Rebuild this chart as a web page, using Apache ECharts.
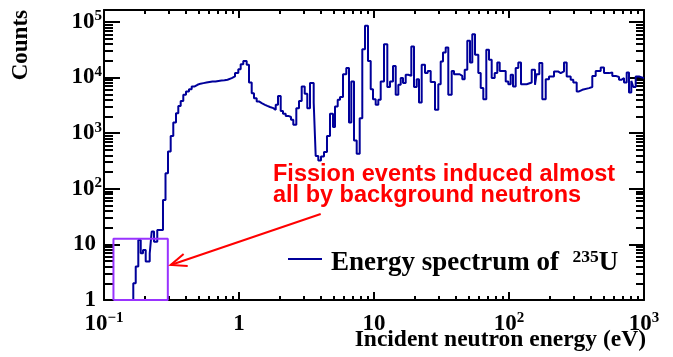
<!DOCTYPE html>
<html><head><meta charset="utf-8">
<script src="https://cdn.jsdelivr.net/npm/echarts@6/dist/echarts.min.js"></script>
<style>html,body{margin:0;padding:0;background:#fff}#c{width:673px;height:357px}</style>
</head><body><div id="c"></div><script>
// ---- data ----
const binLowEdges = [0.1, 0.1648, 0.1718, 0.1795, 0.1871, 0.1945, 0.2037, 0.2181, 0.2256, 0.2347,
 0.2481, 0.2735, 0.2855, 0.2979, 0.3119, 0.3260, 0.3414, 0.3551, 0.3699, 0.3867,
 0.4049, 0.4261, 0.4462, 0.4697, 0.4926, 0.5185, 0.5458, 0.5745, 0.6046, 0.6363,
 0.6697, 0.7048, 0.7418, 0.7808, 0.8219, 0.8504, 0.8829, 0.9342, 0.9881, 1.029,
 1.076, 1.140, 1.186, 1.242, 1.291, 1.352, 1.406, 1.473, 1.558, 1.620,
 1.697, 1.796, 1.871, 1.945, 2.037, 2.118, 2.218, 2.319, 2.428, 2.525,
 2.658, 2.783, 2.914, 3.067, 3.205, 3.356, 3.575, 3.699, 3.867, 4.049,
 4.261, 4.485, 4.721, 4.969, 5.142, 5.385, 5.600, 5.894, 6.234, 6.528,
 6.790, 7.110, 7.445, 7.836, 8.190, 8.577, 9.027, 9.454, 9.831, 10.29,
 10.76, 11.21, 11.86, 12.55, 13.14, 13.83, 14.48, 15.14, 15.77, 16.40,
 17.17, 17.96, 18.90, 19.79, 20.72, 21.54, 22.56, 23.87, 24.99, 26.30,
 28.30, 29.94, 31.19, 32.44, 33.97, 35.51, 37.63, 39.14, 43.13, 45.09,
 46.97, 49.10, 51.42, 53.47, 56.00, 59.25, 61.73, 64.52, 67.90, 71.10,
 74.45, 78.36, 81.90, 85.33, 94.54, 98.81, 102.9, 107.1, 112.1, 117.2,
 122.7, 135.2, 147.3, 155.8, 159.8, 167.7, 176.5, 187.1, 197.9, 215.4,
 230.7, 241.5, 255.5, 267.5, 286.4, 299.4, 317.3, 330.0, 349.1, 391.4,
 414.0, 438.7, 477.9, 505.5, 550.6, 582.5, 617.3, 652.9, 679.0, 711.0,
 744.5, 774.2, 805.1, 833.0, 867.9, 918.3];
const lastEdge = 1000;
const counts = [0, 2.0, 4.0, 12.0, 6.9, 7.9, 4.9, 6.9, 17, 11.2,
 18.2, 63, 191, 468, 891, 1549, 2291, 3090, 3802, 4898,
 5623, 6166, 6918, 7413, 7762, 7943, 8128, 8318, 8511, 8511,
 8710, 8810, 8913, 9120, 9333, 9772, 10470, 12020, 14130, 17380,
 19950, 16980, 8128, 5248, 4266, 3715, 3467, 3236, 3090, 2951,
 2818, 2630, 3236, 4677, 2512, 2239, 2042, 1950, 1738, 1413,
 2818, 3802, 6918, 5129, 2818, 7943, 3548, 389, 324, 380,
 457, 891, 2239, 1288, 3020, 3981, 4467, 11480, 14790, 1549,
 8511, 741, 427, 1862, 32360, 85110, 19950, 6166, 4074, 3236,
 3981, 8511, 39810, 6761, 8511, 16220, 4898, 7413, 9772, 7943,
 11220, 10720, 36310, 6761, 9333, 3548, 16980, 12020, 13180, 8318,
 2630, 7586, 19500, 28180, 34670, 4898, 13180, 11480, 10720, 9333,
 13800, 45710, 18620, 60260, 25700, 12020, 6457, 4074, 31620, 20890,
 9772, 12020, 18620, 13180, 8511, 7586, 11220, 6918, 14790, 18620,
 7586, 8128, 13800, 7413, 11480, 18200, 4074, 9333, 10470, 12880,
 12020, 12880, 18620, 10470, 9120, 8128, 5623, 6026, 6457, 6761,
 10720, 13180, 15140, 12020, 12300, 10720, 10230, 9120, 9772, 8128,
 12300, 5370, 8710, 6761, 10470, 9772];

const xMajorTicks = [0.1, 1, 10, 100, 1000];
const xTickLabels = ['10{s|\u22121}', '1', '10', '10{s|2}', '10{s|3}'];
const yMajorTicks = [1, 10, 100, 1000, 10000, 100000];
const yTickLabels = ['1', '10', '10{s|2}', '10{s|3}', '10{s|4}', '10{s|5}'];
const xRange = [0.1, 1000];
const yRange = [1, 164000];

const boxEnergy = [0.1175, 0.297];
const boxCounts = [1, 12.6];
const arrowTip = [0.312, 4.26];
const arrowTail = [4.03, 35.2];

const legendText = 'Energy spectrum of  {s|235}U';
const noteLines = ['Fission events induced almost', 'all by background neutrons'];
const xTitle = 'Incident neutron energy (eV)';
const yTitle = 'Counts';

// ---- build ----
function minorOf(majors) {
  const out = [];
  for (let i = 0; i < majors.length; i++) for (let k = 2; k <= 9; k++) out.push(majors[i] * k);
  return out;
}
const xMinor = minorOf(xMajorTicks);
const yMinor = minorOf(yMajorTicks);

const histData = binLowEdges.map((e, i) => [e, counts[i] > 0 ? counts[i] : 1e-3]);
histData.push([lastEdge, counts[counts.length - 1]]);

const boxData = [[boxEnergy[0], boxCounts[0]], [boxEnergy[0], boxCounts[1]], [boxEnergy[1], boxCounts[1]],
                 [boxEnergy[1], boxCounts[0]], [boxEnergy[0], boxCounts[0]]];

const serif = 'Liberation Serif, Times New Roman, serif';
const sans = 'Liberation Sans, Arial, sans-serif';
const labRich = {
  s: { fontSize: 15, fontFamily: serif, fontWeight: 'bold', color: '#000', verticalAlign: 'top', lineHeight: 14 },
  sp: { width: 6 }
};
const labBase = { fontSize: 23, fontFamily: serif, fontWeight: 'bold', color: '#000', lineHeight: 26, rich: labRich };

function xAx(pos, ticks, len, lineShow, labels) {
  return {
    type: 'log', logBase: 10, min: xRange[0], max: xRange[1], position: pos,
    axisLine: { show: lineShow, onZero: false, lineStyle: { color: '#000', width: 2 } },
    axisTick: { show: true, inside: true, length: len, customValues: ticks, lineStyle: { color: '#000', width: 2 } },
    axisLabel: labels ? Object.assign({
      show: true, margin: 11, customValues: xMajorTicks,
      formatter: v => { const i = xMajorTicks.findIndex(t => Math.abs(Math.log10(t) - Math.log10(v)) < 1e-6); return i >= 0 ? xTickLabels[i] : ''; }
    }, labBase) : { show: false },
    splitLine: { show: false }, minorTick: { show: false }
  };
}
function yAx(pos, ticks, len, lineShow, labels) {
  return {
    type: 'log', logBase: 10, min: yRange[0], max: yRange[1], position: pos,
    axisLine: { show: lineShow, onZero: false, lineStyle: { color: '#000', width: 2 } },
    axisTick: { show: true, inside: true, length: len, customValues: ticks, lineStyle: { color: '#000', width: 2 } },
    axisLabel: labels ? Object.assign({
      show: true, margin: 2, customValues: yMajorTicks, align: 'right',
      formatter: v => { const i = yMajorTicks.findIndex(t => Math.abs(Math.log10(t) - Math.log10(v)) < 1e-6);
        if (i < 0) return ''; const s = yTickLabels[i]; return s.indexOf('{s|') >= 0 ? s : s + '{sp|}'; }
    }, labBase) : { show: false },
    splitLine: { show: false }, minorTick: { show: false }
  };
}

const chart = echarts.init(document.getElementById('c'), null, { renderer: 'canvas' });
chart.setOption({
  animation: false,
  backgroundColor: '#fff',
  grid: { left: 104, top: 10, width: 540, height: 290, containLabel: false },
  xAxis: [xAx('bottom', xMajorTicks, 8, true, true), xAx('top', xMajorTicks, 8, true, false),
          xAx('bottom', xMinor, 4, false, false), xAx('top', xMinor, 4, false, false)],
  yAxis: [yAx('left', yMajorTicks, 16, true, true), yAx('right', yMajorTicks, 15, true, false),
          yAx('left', yMinor, 9, false, false), yAx('right', yMinor, 8, false, false)],
  legend: {
    data: ['spectrum'], left: 288, top: 240, orient: 'vertical', padding: 0,
    icon: 'rect', itemWidth: 34, itemHeight: 2,
    formatter: () => legendText,
    textStyle: { fontSize: 27, fontFamily: serif, fontWeight: 'bold', color: '#000', lineHeight: 30, padding: [8, 0, 0, 4],
      rich: { s: { fontSize: 17.5, fontFamily: serif, fontWeight: 'bold', color: '#000', verticalAlign: 'top', lineHeight: 17 } } }
  },
  series: [
    { name: 'spectrum', type: 'line', step: 'end', data: histData, symbol: 'none', showSymbol: false,
      xAxisIndex: 0, yAxisIndex: 0, clip: true, z: 3,
      lineStyle: { color: '#00009a', width: 2 }, itemStyle: { color: '#00009a' } },
    { name: 'box', type: 'line', data: boxData, symbol: 'none', showSymbol: false, clip: false, z: 4,
      xAxisIndex: 0, yAxisIndex: 0, lineStyle: { color: '#9933ff', width: 2 }, itemStyle: { color: '#9933ff' } },
    { name: 'arrow', type: 'custom', xAxisIndex: 0, yAxisIndex: 0, z: 5, clip: false,
      data: [[arrowTip[0], arrowTip[1], arrowTail[0], arrowTail[1]]],
      renderItem: (params, api) => {
        const tip = api.coord([api.value(0), api.value(1)]);
        const tail = api.coord([api.value(2), api.value(3)]);
        const ang = Math.atan2(tail[1] - tip[1], tail[0] - tip[0]);
        const L = 17, a = 0.38;
        const h1 = [tip[0] + L * Math.cos(ang + a), tip[1] + L * Math.sin(ang + a)];
        const h2 = [tip[0] + L * Math.cos(ang - a), tip[1] + L * Math.sin(ang - a)];
        const st = { stroke: '#ff0000', lineWidth: 2, fill: null };
        return { type: 'group', children: [
          { type: 'line', shape: { x1: tip[0], y1: tip[1], x2: tail[0], y2: tail[1] }, style: st },
          { type: 'polyline', shape: { points: [h1, tip, h2] }, style: st }
        ] };
      } }
  ],
  graphic: [
    { type: 'text', x: 21, y: 10, rotation: Math.PI / 2,
      style: { text: yTitle, font: 'bold 23px ' + serif, fill: '#000', align: 'right', verticalAlign: 'middle' } },
    { type: 'text', x: 646, y: 328,
      style: { text: xTitle, font: 'bold 23.5px ' + serif, fill: '#000', align: 'right', verticalAlign: 'top' } },
    { type: 'text', x: 273, y: 163,
      style: { text: noteLines[0], font: 'bold 23.5px ' + sans, fill: '#ff0000', align: 'left', verticalAlign: 'top' } },
    { type: 'text', x: 273, y: 183.5,
      style: { text: noteLines[1], font: 'bold 23.5px ' + sans, fill: '#ff0000', align: 'left', verticalAlign: 'top' } }
  ]
});
</script></body></html>
